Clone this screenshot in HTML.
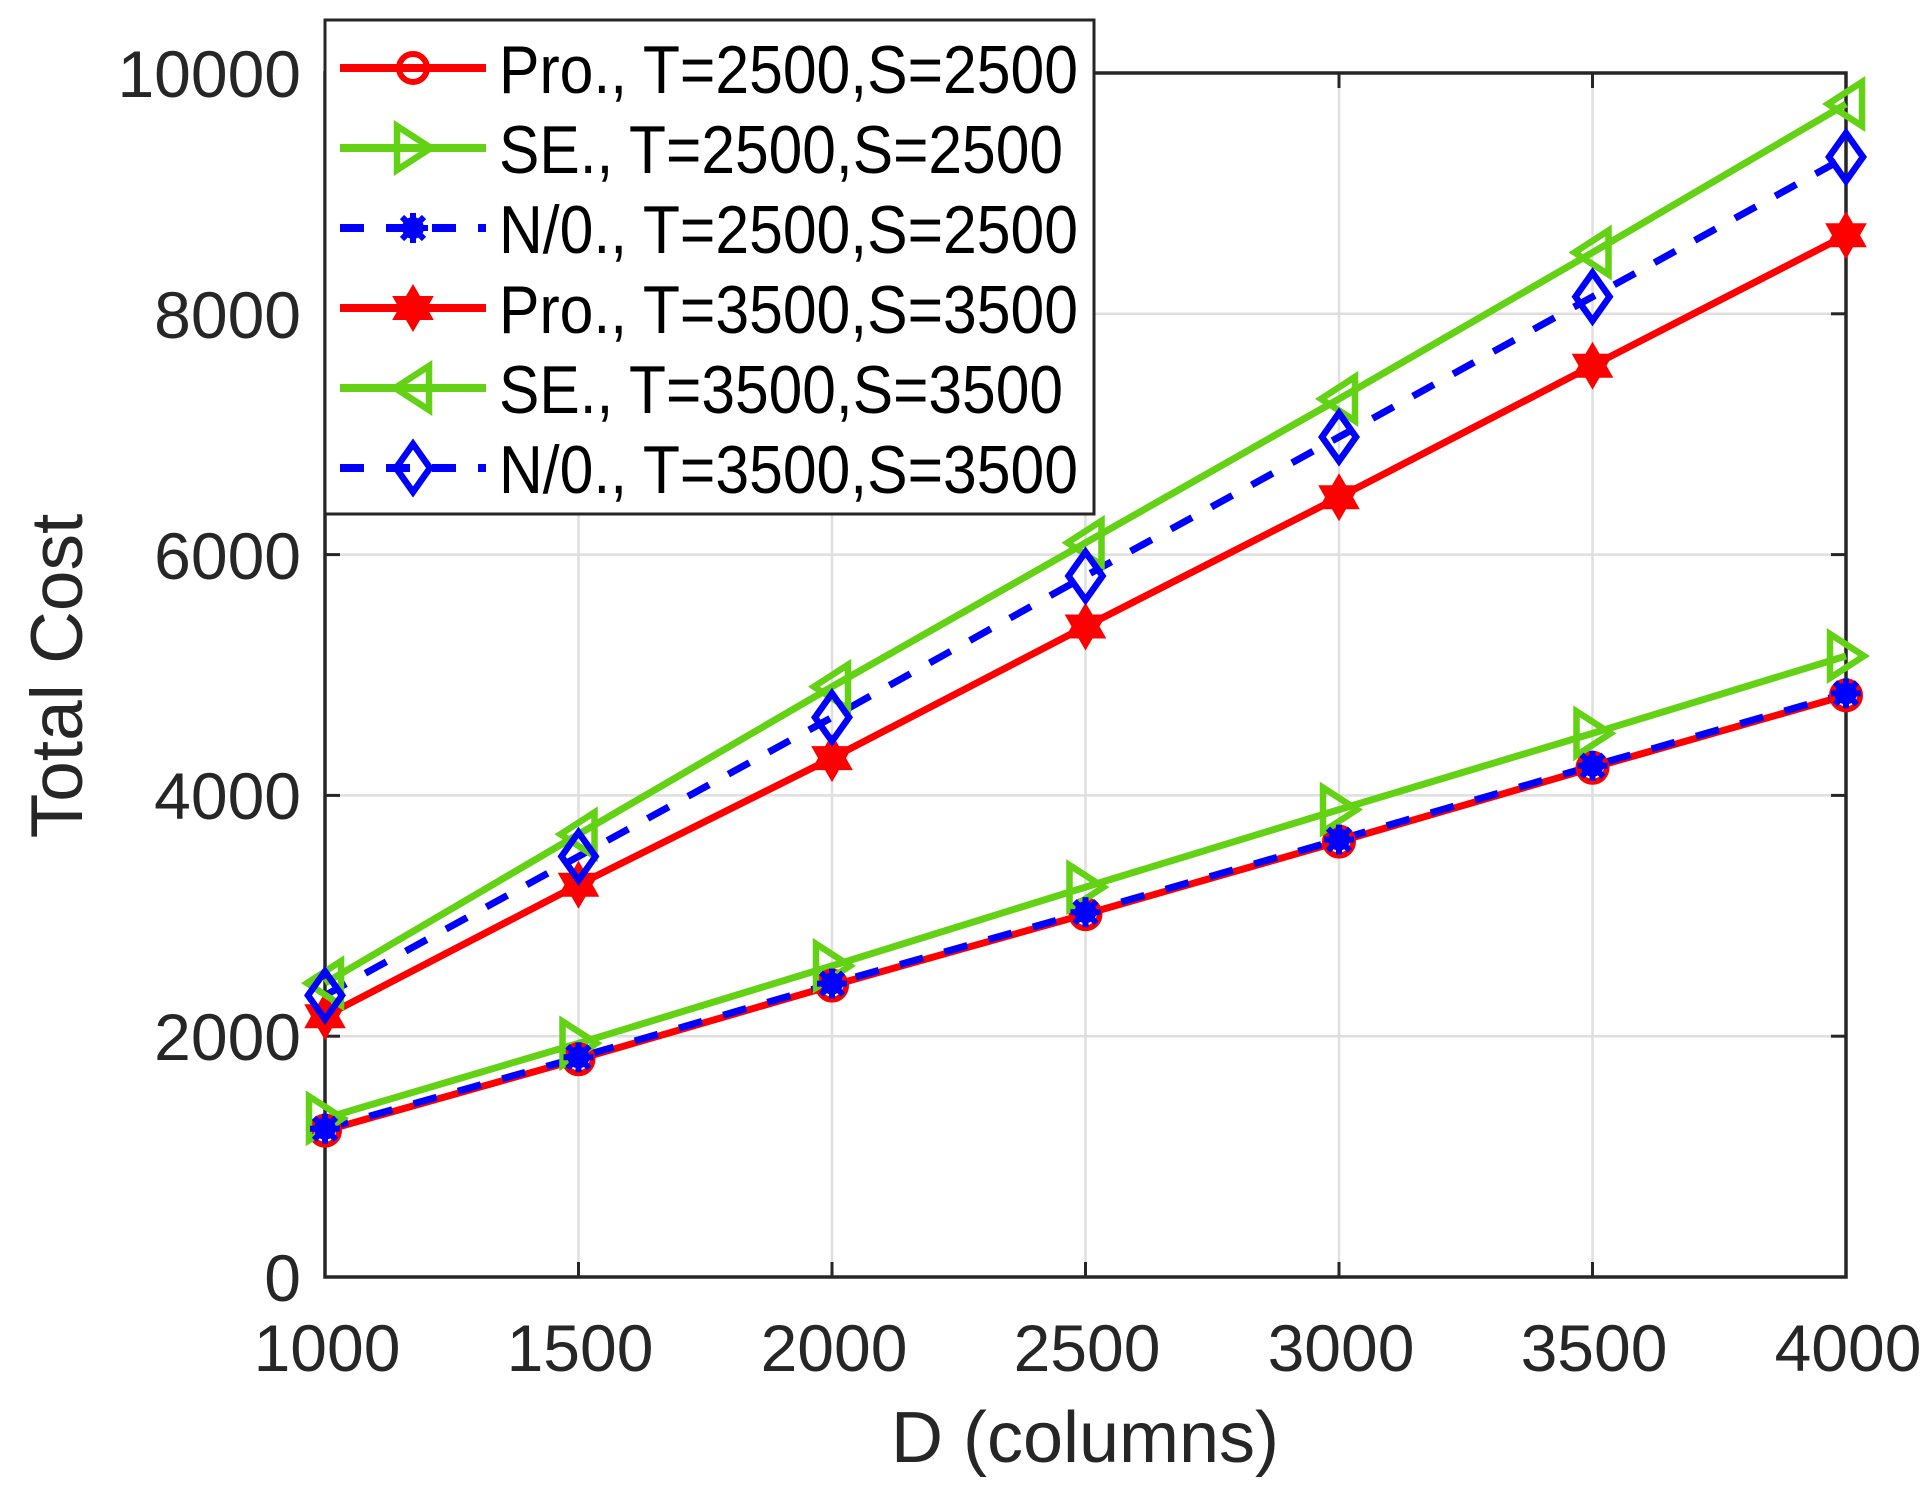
<!DOCTYPE html>
<html><head><meta charset="utf-8"><style>html,body{margin:0;padding:0;background:#fff}svg{display:block}</style></head>
<body>
<svg width="1931" height="1498" viewBox="0 0 1931 1498" xmlns="http://www.w3.org/2000/svg" font-family="Liberation Sans, Arial, sans-serif">
<defs>
<g id="circ"><circle r="14" fill="none" stroke="#ff0000" stroke-width="6"/></g>
<g id="triR"><polygon points="-16,-22 18,0 -16,22" fill="none" stroke="#64d214" stroke-width="6.5"/></g>
<g id="triL"><polygon points="16,-22 -18,0 16,22" fill="none" stroke="#64d214" stroke-width="6.5"/></g>
<g id="ast"><circle r="11" fill="#0000ff"/><g stroke="#0000ff" stroke-width="6"><line x1="-15" y1="0" x2="15" y2="0"/><line x1="0" y1="-15" x2="0" y2="15"/><line x1="-11" y1="-11" x2="11" y2="11"/><line x1="-11" y1="11" x2="11" y2="-11"/></g></g>
<g id="star"><polygon fill="#ff0000" points="0,-24 7,-12 20.8,-12 14,0 20.8,12 7,12 0,24 -7,12 -20.8,12 -14,0 -20.8,-12 -7,-12"/></g>
<g id="diam"><polygon points="0,-24 17,0 0,24 -17,0" fill="none" stroke="#0000ff" stroke-width="6.5"/></g>
</defs>
<rect width="1931" height="1498" fill="#fff"/>
<g stroke="#dfdfdf" stroke-width="2.5">
<line x1="578.5" y1="73" x2="578.5" y2="1277"/><line x1="832" y1="73" x2="832" y2="1277"/><line x1="1085.5" y1="73" x2="1085.5" y2="1277"/><line x1="1339" y1="73" x2="1339" y2="1277"/><line x1="1592.5" y1="73" x2="1592.5" y2="1277"/>
<line x1="325" y1="1036.2" x2="1846" y2="1036.2"/><line x1="325" y1="795.4" x2="1846" y2="795.4"/><line x1="325" y1="554.6" x2="1846" y2="554.6"/><line x1="325" y1="313.8" x2="1846" y2="313.8"/>
</g>
<g stroke="#262626" stroke-width="3">
<line x1="578.5" y1="1277" x2="578.5" y2="1262"/><line x1="832" y1="1277" x2="832" y2="1262"/><line x1="1085.5" y1="1277" x2="1085.5" y2="1262"/><line x1="1339" y1="1277" x2="1339" y2="1262"/><line x1="1592.5" y1="1277" x2="1592.5" y2="1262"/>
<line x1="578.5" y1="73" x2="578.5" y2="88"/><line x1="832" y1="73" x2="832" y2="88"/><line x1="1085.5" y1="73" x2="1085.5" y2="88"/><line x1="1339" y1="73" x2="1339" y2="88"/><line x1="1592.5" y1="73" x2="1592.5" y2="88"/>
<line x1="325" y1="1036.2" x2="340" y2="1036.2"/><line x1="325" y1="795.4" x2="340" y2="795.4"/><line x1="325" y1="554.6" x2="340" y2="554.6"/><line x1="325" y1="313.8" x2="340" y2="313.8"/>
<line x1="1846" y1="1036.2" x2="1831" y2="1036.2"/><line x1="1846" y1="795.4" x2="1831" y2="795.4"/><line x1="1846" y1="554.6" x2="1831" y2="554.6"/><line x1="1846" y1="313.8" x2="1831" y2="313.8"/>
</g>
<rect x="325" y="73" width="1521" height="1204" fill="none" stroke="#262626" stroke-width="3.5"/>
<g fill="#262626" font-size="66" text-anchor="middle">
<text x="327" y="1371">1000</text><text x="580" y="1371">1500</text><text x="834" y="1371">2000</text><text x="1087" y="1371">2500</text><text x="1341" y="1371">3000</text><text x="1594" y="1371">3500</text><text x="1848" y="1371">4000</text>
</g>
<g fill="#262626" font-size="66" text-anchor="end">
<text x="301" y="1301">0</text><text x="301" y="1060">2000</text><text x="301" y="819">4000</text><text x="301" y="579">6000</text><text x="301" y="338">8000</text><text x="301" y="97">10000</text>
</g>
<text x="1085" y="1462" fill="#262626" font-size="72" text-anchor="middle">D (columns)</text>
<text transform="translate(82,676) rotate(-90)" fill="#262626" font-size="73" text-anchor="middle">Total Cost</text>
<g fill="none" stroke-width="7" stroke-linejoin="round">
<polyline stroke="#ff0000" points="325,1130.7 578.5,1059.3 832,985.6 1085.5,914.2 1339,841.6 1592.5,767.8 1846,695.4"/>
<polyline stroke="#64d214" points="325,1118.3 578.5,1043.3 832,965.9 1085.5,887.1 1339,809.6 1592.5,733.4 1846,656"/>
<polyline stroke="#0000ff" stroke-dasharray="24 22" points="325,1128.7 578.5,1057.3 832,983.6 1085.5,912.2 1339,839.6 1592.5,765.8 1846,693.4"/>
<polyline stroke="#ff0000" points="325,1016.2 578.5,884.7 832,758.1 1085.5,626.5 1339,497.3 1592.5,365.7 1846,235.3"/>
<polyline stroke="#64d214" points="325,983.1 578.5,834.3 832,686.7 1085.5,542.8 1339,398.9 1592.5,252.5 1846,104"/>
<polyline stroke="#0000ff" stroke-dasharray="24 22" points="325,995.4 578.5,856.4 832,717.4 1085.5,576 1339,437 1592.5,296.8 1846,157"/>
</g>
<use href="#circ" x="325" y="1130.7"/><use href="#circ" x="578.5" y="1059.3"/><use href="#circ" x="832" y="985.6"/><use href="#circ" x="1085.5" y="914.2"/><use href="#circ" x="1339" y="841.6"/><use href="#circ" x="1592.5" y="767.8"/><use href="#circ" x="1846" y="695.4"/>
<use href="#triR" x="325" y="1118.3"/><use href="#triR" x="578.5" y="1043.3"/><use href="#triR" x="832" y="965.9"/><use href="#triR" x="1085.5" y="887.1"/><use href="#triR" x="1339" y="809.6"/><use href="#triR" x="1592.5" y="733.4"/><use href="#triR" x="1846" y="656"/>
<use href="#ast" x="325" y="1128.7"/><use href="#ast" x="578.5" y="1057.3"/><use href="#ast" x="832" y="983.6"/><use href="#ast" x="1085.5" y="912.2"/><use href="#ast" x="1339" y="839.6"/><use href="#ast" x="1592.5" y="765.8"/><use href="#ast" x="1846" y="693.4"/>
<use href="#star" x="325" y="1016.2"/><use href="#star" x="578.5" y="884.7"/><use href="#star" x="832" y="758.1"/><use href="#star" x="1085.5" y="626.5"/><use href="#star" x="1339" y="497.3"/><use href="#star" x="1592.5" y="365.7"/><use href="#star" x="1846" y="235.3"/>
<use href="#triL" x="325" y="983.1"/><use href="#triL" x="578.5" y="834.3"/><use href="#triL" x="832" y="686.7"/><use href="#triL" x="1085.5" y="542.8"/><use href="#triL" x="1339" y="398.9"/><use href="#triL" x="1592.5" y="252.5"/><use href="#triL" x="1846" y="104"/>
<use href="#diam" x="325" y="995.4"/><use href="#diam" x="578.5" y="856.4"/><use href="#diam" x="832" y="717.4"/><use href="#diam" x="1085.5" y="576"/><use href="#diam" x="1339" y="437"/><use href="#diam" x="1592.5" y="296.8"/><use href="#diam" x="1846" y="157"/>
<rect x="325" y="20" width="769" height="494" fill="#fff" stroke="#262626" stroke-width="3"/>
<g stroke-width="8" fill="none">
<line x1="340" y1="68" x2="486" y2="68" stroke="#ff0000"/>
<line x1="340" y1="148" x2="486" y2="148" stroke="#64d214"/>
<line x1="340" y1="228" x2="486" y2="228" stroke="#0000ff" stroke-dasharray="24 22"/>
<line x1="340" y1="308" x2="486" y2="308" stroke="#ff0000"/>
<line x1="340" y1="388" x2="486" y2="388" stroke="#64d214"/>
<line x1="340" y1="468" x2="486" y2="468" stroke="#0000ff" stroke-dasharray="24 22"/>
</g>
<use href="#circ" x="413" y="68"/><use href="#triR" x="413" y="148"/><use href="#ast" x="413" y="228"/><use href="#star" x="413" y="308"/><use href="#triL" x="413" y="388"/><use href="#diam" x="413" y="468"/>
<g fill="#000" font-size="68">
<text x="499" y="93" textLength="579" lengthAdjust="spacingAndGlyphs">Pro., T=2500,S=2500</text>
<text x="499" y="173" textLength="564" lengthAdjust="spacingAndGlyphs">SE., T=2500,S=2500</text>
<text x="499" y="253" textLength="579" lengthAdjust="spacingAndGlyphs">N/0., T=2500,S=2500</text>
<text x="499" y="333" textLength="579" lengthAdjust="spacingAndGlyphs">Pro., T=3500,S=3500</text>
<text x="499" y="413" textLength="564" lengthAdjust="spacingAndGlyphs">SE., T=3500,S=3500</text>
<text x="499" y="493" textLength="579" lengthAdjust="spacingAndGlyphs">N/0., T=3500,S=3500</text>
</g>
</svg>
</body></html>
